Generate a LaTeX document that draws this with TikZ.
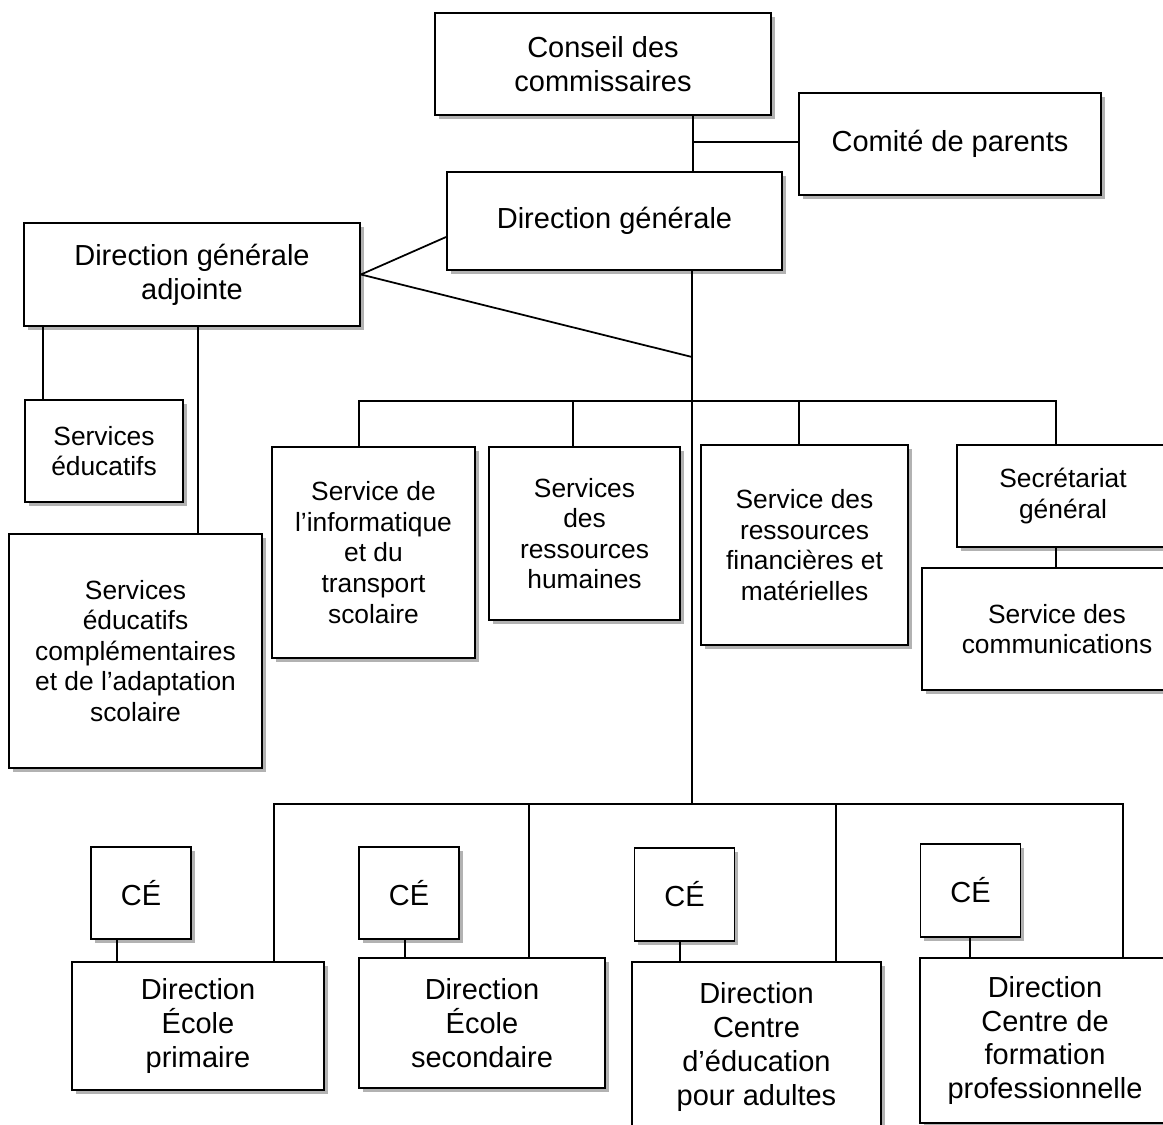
\documentclass[tikz,border=0pt]{standalone}
\usepackage{fontspec}
\setmainfont{Liberation Sans}
\usetikzlibrary{positioning,calc,shadows}
\tikzset{
	box/.style={draw, line width=1.1pt, fill=white, align=center, inner sep=0pt,
		drop shadow={shadow xshift=2.2pt, shadow yshift=-2.2pt, opacity=0.3, fill=black}},
	big/.style={font=\fontsize{16.5}{19.2}\selectfont},
	small/.style={font=\fontsize{15}{17.4}\selectfont},
	link/.style={line width=1pt},
}

\begin{document}
\begin{tikzpicture}[x=0.02cm, y=-0.02cm]
	\useasboundingbox (0,0) rectangle (1163,1125);
	\clip (0,0) rectangle (1163,1125);
	\begin{scope}
		% top
		\node[box, big, minimum width=6.72cm, minimum height=2.04cm] (conseil) at (603, 64) {Conseil des\\commissaires};
		\node[box, big, minimum width=6.04cm, minimum height=2.04cm] (comite) at (950, 144) {Comité de parents};
		\node[box, big, minimum width=6.7cm, minimum height=1.96cm] (dg) at (614.5, 221) {Direction générale};
		\node[box, big, minimum width=6.72cm, minimum height=2.06cm] (dga) at (192, 274.5) {Direction générale\\adjointe};

		% services
		\node[box, small, minimum width=3.16cm, minimum height=2.04cm] (sedu) at (104, 451) {Services\\éducatifs};
		\node[box, small, minimum width=5.06cm, minimum height=4.68cm] (seca) at (135.5, 651) {Services\\éducatifs\\complémentaires\\et de l’adaptation\\scolaire};
		\node[box, small, minimum width=4.06cm, minimum height=4.22cm] (sinfo) at (373.5, 552.5) {Service de\\l’informatique\\et du\\transport\\scolaire};
		\node[box, small, minimum width=3.82cm, minimum height=3.46cm] (srh) at (584.5, 533.5) {Services\\des\\ressources\\humaines};
		\node[box, small, minimum width=4.14cm, minimum height=4.0cm] (srfm) at (804.5, 545) {Service des\\ressources\\financières et\\matérielles};
		\node[box, small, minimum width=4.24cm, minimum height=2.04cm] (sg) at (1063, 496) {Secrétariat\\général};
		\node[box, small, minimum width=5.4cm, minimum height=2.44cm] (scom) at (1057, 629) {Service des\\communications};

		% schools
		\node[box, big, minimum width=2.0cm, minimum height=1.84cm] (ce1) at (141, 893) {CÉ};
		\node[box, big, minimum width=2.0cm, minimum height=1.84cm] (ce2) at (409, 893) {CÉ};
		\node[box, big, minimum width=2.0cm, minimum height=1.86cm] (ce3) at (684.5, 894.5) {CÉ};
		\node[box, big, minimum width=2.0cm, minimum height=1.86cm] (ce4) at (970.5, 890.5) {CÉ};
		\node[box, big, minimum width=5.04cm, minimum height=2.56cm] (dprim) at (198, 1026) {Direction\\École\\primaire};
		\node[box, big, minimum width=4.92cm, minimum height=2.6cm] (dsec) at (482, 1023) {Direction\\École\\secondaire};
		\node[box, big, minimum width=4.98cm, minimum height=3.4cm] (dadu) at (756.5, 1047) {Direction\\Centre\\d’éducation\\pour adultes};
		\node[box, big, minimum width=5.0cm, minimum height=3.3cm] (dfor) at (1045, 1040.5) {Direction\\Centre de\\formation\\professionnelle};

		% junctions
		\coordinate (c1) at (693, 142);
		\coordinate (c2) at (692, 357);
		\coordinate (c4) at (692, 804);
		\coordinate (a1) at (43, 360);
		\coordinate (a2) at (198, 360);
		\coordinate (m1) at (359, 401);
		\coordinate (m2) at (573, 401);
		\coordinate (m3) at (799, 401);
		\coordinate (m4) at (1056, 401);
		\coordinate (b1) at (274, 804);
		\coordinate (b2) at (529, 804);
		\coordinate (b3) at (836, 804);
		\coordinate (b4) at (1123, 804);
		\coordinate (k1) at (117, 950);
		\coordinate (k2) at (405, 950);
		\coordinate (k3) at (680, 950);
		\coordinate (k4) at (970, 950);

		\draw[link] (conseil.south -| c1) -- (dg.north -| c1);
		\draw[link] (c1) -- (comite.west |- c1);
		\draw[link] (dg.south -| c2) -- (c4);
		\draw[link] (dga.east) -- ($(dg.west)+(0,16)$);
		\draw[link] (dga.east) -- (c2);

		\draw[link] (dga.south -| a1) -- (sedu.north -| a1);
		\draw[link] (dga.south -| a2) -- (seca.north -| a2);

		\draw[link] (sinfo.north -| m1) |- (m4) -- (sg.north -| m4);
		\draw[link] (m2) -- (srh.north -| m2);
		\draw[link] (m3) -- (srfm.north -| m3);
		\draw[link] (sg.south -| m4) -- (scom.north -| m4);

		\draw[link] (dprim.north -| b1) |- (b4) -- (dfor.north -| b4);
		\draw[link] (b2) -- (dsec.north -| b2);
		\draw[link] (b3) -- (dadu.north -| b3);

		\draw[link] (ce1.south -| k1) -- (dprim.north -| k1);
		\draw[link] (ce2.south -| k2) -- (dsec.north -| k2);
		\draw[link] (ce3.south -| k3) -- (dadu.north -| k3);
		\draw[link] (ce4.south -| k4) -- (dfor.north -| k4);
	\end{scope}
\end{tikzpicture}
\end{document}
